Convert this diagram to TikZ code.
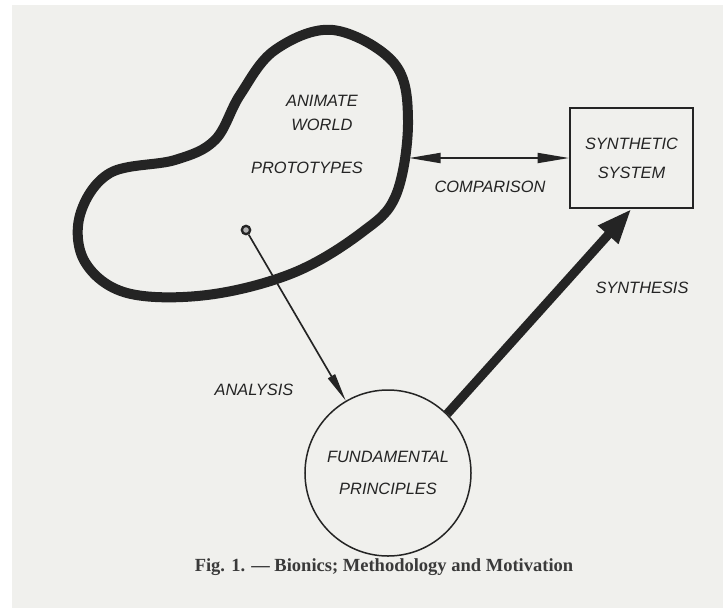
\documentclass[tikz,border=0pt]{standalone}
\usepackage{fontspec}
\newfontfamily\letterfont{Liberation Sans}
\newfontfamily\captionfont{Liberation Serif}
\usetikzlibrary{arrows.meta}
\definecolor{paper}{RGB}{240,240,237}
\definecolor{ink}{RGB}{36,36,36}
\tikzset{
  lettering/.style={font=\letterfont\itshape\fontsize{14}{17}\selectfont,text=ink,align=center,inner sep=0pt},
}
\begin{document}
\begin{tikzpicture}[x=0.03cm,y=-0.03cm]
\useasboundingbox (0,0) rectangle (723,608);
\fill[white] (0,0) rectangle (723,608);
\fill[paper] (12,5) rectangle (723,608);
%---------------------------------------------------
\draw[ink,line width=0.3cm] plot[smooth cycle,tension=0.6] coordinates {
  (333,30) (394,63) (408,120) (396,195) (361,233) (293,273) (207,295)
  (127,293) (85,262) (80,215) (110,173) (175,160) (215,140) (240,95) (275,50)};
\node[lettering,font=\letterfont\itshape\fontsize{14}{20}\selectfont] (animate) at (322,113) {ANIMATE\\WORLD};
\node[lettering] (proto) at (307,168) {PROTOTYPES};
\node[circle,draw=ink,fill=gray!60,line width=0.07cm,minimum size=0.25cm,inner sep=0pt] (dot) at (246,230) {};
%---------------------------------------------------
\node[draw=ink,line width=0.05cm,minimum width=3.69cm,minimum height=3cm,
      lettering,font=\letterfont\itshape\fontsize{14}{25}\selectfont] (synth) at (631.5,158) {SYNTHETIC\\SYSTEM};
\node[circle,draw=ink,line width=0.045cm,minimum size=4.98cm,
      lettering,font=\letterfont\itshape\fontsize{14}{28}\selectfont] (fund) at (388,473) {FUNDAMENTAL\\PRINCIPLES};
%---------------------------------------------------
\coordinate (cmp) at (409,158);
\draw[ink,line width=0.06cm,{Triangle[length=0.95cm,width=0.3cm]}-{Triangle[length=0.95cm,width=0.3cm]}] (cmp) -- (synth.west);
\draw[ink,line width=0.05cm,-{Triangle[length=0.85cm,width=0.24cm]}] (dot) -- (fund);
\draw[ink,line width=0.27cm,-{Triangle[length=1.05cm,width=0.75cm]}] (fund.45) -- (synth.south);
%---------------------------------------------------
\node[lettering] (comparison) at (490,187) {COMPARISON};
\node[lettering] (synthesis) at (642,288) {SYNTHESIS};
\node[lettering] (analysis) at (254,390) {ANALYSIS};
\node[font=\captionfont\bfseries\fontsize{15.8}{19}\selectfont,text=ink!90] (caption) at (384,567) {Fig. 1. \textemdash{} Bionics; Methodology and Motivation};
\end{tikzpicture}
\end{document}
